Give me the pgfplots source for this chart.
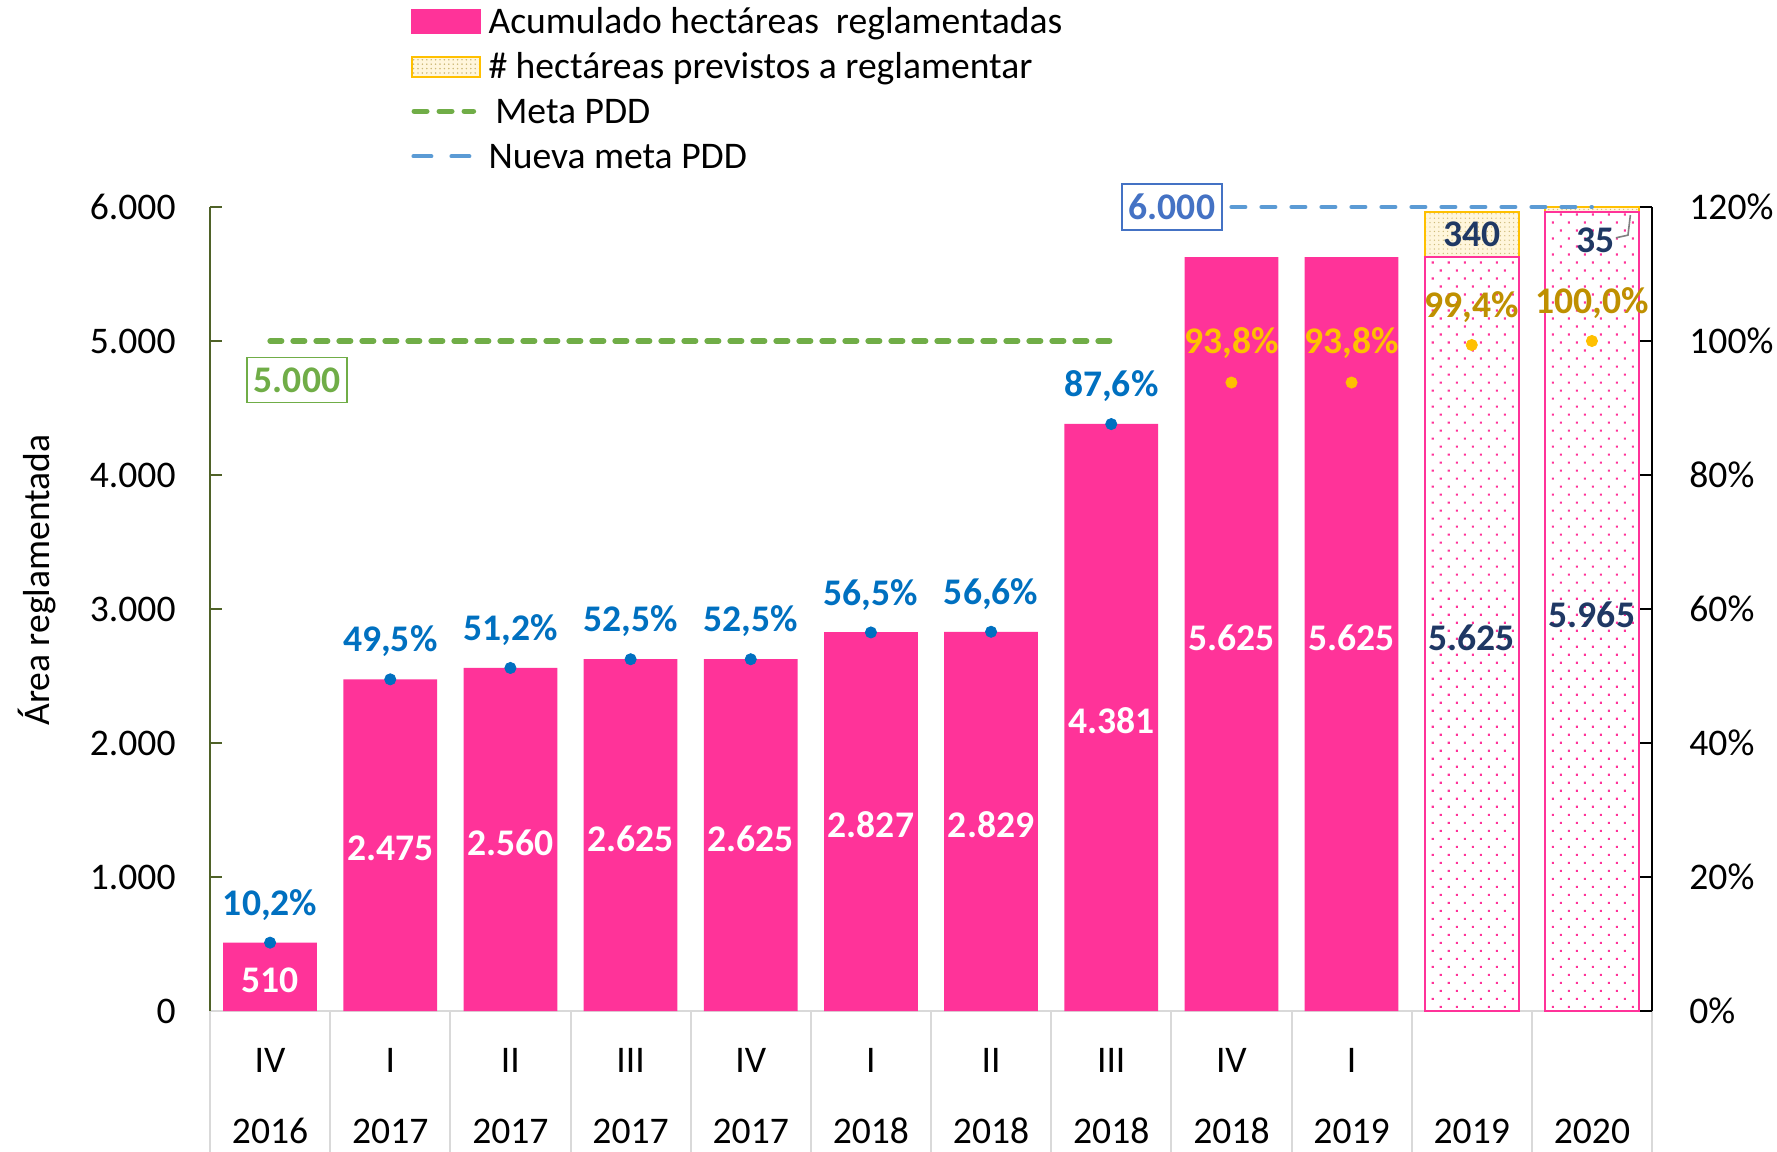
\documentclass[border=0pt]{standalone}
\usepackage{fontspec}
\setmainfont{Carlito}
\usepackage{pgfplots}
\pgfplotsset{compat=1.18}
\usepackage{pgfplotstable}
\usetikzlibrary{patterns.meta}

\definecolor{pinkc}{RGB}{255,51,153}
\definecolor{yelc}{RGB}{255,192,0}
\definecolor{goldc}{RGB}{191,144,0}
\definecolor{bluec}{RGB}{0,112,192}
\definecolor{navyc}{RGB}{31,56,100}
\definecolor{greenc}{RGB}{112,173,71}
\definecolor{lbluec}{RGB}{91,155,213}
\definecolor{mbluec}{RGB}{68,114,196}
\definecolor{axgreen}{RGB}{79,98,40}
\definecolor{sepgray}{RGB}{217,217,217}
\definecolor{creamc}{RGB}{255,246,220}
\definecolor{dotyel}{RGB}{205,185,120}

\newcommand\F{\fontsize{18.8}{22}\selectfont}

\pgfplotstableread{
x y
0 510
1 2475
2 2560
3 2625
4 2625
5 2827
6 2829
7 4381
8 5625
9 5625
}\solidtab
\pgfplotstableread{
x y
10 5625
11 5965
}\dottab
\pgfplotstableread{
x base add
10 5625 340
11 5965 35
}\addtab
\pgfplotstableread{
x p
0 10.2
1 49.5
2 51.2
3 52.5
4 52.5
5 56.5
6 56.6
7 87.6
}\pblue
\pgfplotstableread{
x p
8 93.8
9 93.8
}\pyel
\pgfplotstableread{
x p
10 99.4
11 100.0
}\pgold

\begin{document}
\begin{tikzpicture}[font=\F]
\useasboundingbox (-105pt,-70pt) rectangle (783.5pt,505.5pt);
\begin{axis}[
  at={(0,0)}, anchor=south west,
  width=721pt, height=402pt, scale only axis,
  xmin=-0.5, xmax=11.5, ymin=0, ymax=6000,
  clip=false,
  axis x line*=bottom, axis y line*=left,
  x axis line style={draw=sepgray, line width=1pt, -},
  y axis line style={draw=axgreen, line width=0.8pt, -},
  tick align=inside, major tick length=6pt,
  ytick={0,1000,...,6000},
  scaled y ticks=false,
  /pgf/number format/assume math mode=true,
  /pgf/number format/1000 sep={.},
  ytick style={draw=axgreen, line width=0.8pt},
  yticklabel style={anchor=east, inner sep=0pt, xshift=-17pt},
  xtick={0,...,11},
  xtick style={draw=none},
  xticklabels={{\strut IV\\\strut 2016},{\strut I\\\strut 2017},{\strut II\\\strut 2017},{\strut III\\\strut 2017},{\strut IV\\\strut 2017},{\strut I\\\strut 2018},{\strut II\\\strut 2018},{\strut III\\\strut 2018},{\strut IV\\\strut 2018},{\strut I\\\strut 2019},{\strut\\\strut 2019},{\strut\\\strut 2020}},
  xticklabel style={align=center, anchor=north, inner sep=0pt, yshift=-5.65pt, font=\fontsize{18.8}{35.5}\selectfont},
  extra x ticks={-0.5,0.5,...,11.5},
  extra x tick labels={},
  extra x tick style={grid=none, tick align=outside, major tick length=72pt, xtick style={draw=sepgray, line width=1pt}},
  ylabel={Área reglamentada},
  every axis y label/.style={at={(axis description cs:-0.12,0.536)}, anchor=center, rotate=90},
  legend style={at={(axis description cs:0.1394,1.249)}, anchor=north west, draw=none, fill=none, inner sep=0pt, row sep=5.6pt, nodes={inner sep=0pt, text height=13pt, text depth=4pt}, font=\F},
  legend cell align=left,
]
\addplot[ybar, bar width=0.78, bar shift=0pt, fill=pinkc, draw=none,
  legend image code/.code={\fill[pinkc] (0pt,-5pt) rectangle (35pt,7.5pt); \path (37.2pt,0pt);}]
  table[x=x,y=y]{\solidtab};
\addlegendentry{Acumulado hectáreas\ \ reglamentadas}
\addplot[ybar, bar width=0.78, bar shift=0pt, fill=creamc, draw=yelc, line width=1pt,
  postaction={pattern={Dots[distance=2.2pt,radius=0.35pt]}, pattern color=dotyel},
  legend image code/.code={\draw[yelc, line width=1pt, fill=creamc, postaction={pattern={Dots[distance=2.2pt,radius=0.35pt]}, pattern color=dotyel}] (0.5pt,-3.8pt) rectangle (34.5pt,6.2pt); \path (37.2pt,0pt);}]
  table[x=x, y expr=\thisrow{base}+\thisrow{add}]{\addtab};
\addlegendentry{\# hectáreas previstos a reglamentar}
\addplot[ybar, bar width=0.78, bar shift=0pt, fill=white, draw=pinkc, line width=1pt,
  postaction={pattern={Dots[distance=5.66pt,angle=45,radius=0.75pt]}, pattern color=pinkc}, forget plot]
  table[x=x,y=y]{\dottab};
\addplot[greenc, line width=2.7pt, line cap=round, dash pattern=on 5.8pt off 5.7pt,
  legend image code/.code={\draw[greenc, line width=2.7pt, line cap=round, dash pattern=on 6.3pt off 6.2pt] (1.4pt,1.7pt) -- (31pt,1.7pt); \path (37.2pt,0pt);}]
  coordinates {(0,5000) (7,5000)};
\addlegendentry{\hspace{3.4pt}Meta PDD}
\addplot[lbluec, line width=2pt, line cap=round, dash pattern=on 7pt off 8pt,
  legend image code/.code={\draw[lbluec, line width=2pt, line cap=round, dash pattern=on 9pt off 10pt] (1pt,1.7pt) -- (30pt,1.7pt); \path (37.2pt,0pt);}]
  coordinates {(8,6000) (11,6000)};
\addlegendentry{Nueva meta PDD}
% bar value labels
\addplot[draw=none, mark=none, forget plot, point meta=\thisrow{y},
  nodes near coords={\pgfmathprintnumber{\pgfplotspointmeta}},
  every node near coord/.append style={anchor=center, yshift=-1.7pt, font=\F\bfseries, text=white}]
  table[x=x, y expr=\thisrow{y}/2]{\solidtab};
\addplot[draw=none, mark=none, forget plot, point meta=\thisrow{y},
  nodes near coords={\pgfmathprintnumber{\pgfplotspointmeta}},
  every node near coord/.append style={anchor=center, yshift=-1.7pt, font=\F\bfseries, text=navyc}]
  table[x=x, y expr=\thisrow{y}/2]{\dottab};
\addplot[draw=none, mark=none, forget plot, point meta=explicit symbolic,
  nodes near coords,
  every node near coord/.append style={anchor=center, font=\F\bfseries, text=navyc}]
  coordinates {(10,5795)[340] (11.03,5755)[35]};
\draw[gray, line width=0.8pt] (axis cs:11.2,5770) -- (axis cs:11.3,5790) -- (axis cs:11.32,5940);
\node[draw=greenc, line width=0.8pt, text=greenc, font=\F\bfseries, inner xsep=3.5pt, inner ysep=5pt] at (axis cs:0.224,4709) {5.000};
\node[draw=mbluec, line width=0.8pt, text=mbluec, fill=white, font=\F\bfseries, inner xsep=3.5pt, inner ysep=5pt] at (axis cs:7.505,6000) {6.000};
\end{axis}
\begin{axis}[
  at={(0,0)}, anchor=south west,
  width=721pt, height=402pt, scale only axis,
  xmin=-0.5, xmax=11.5, ymin=0, ymax=120,
  clip=false,
  axis x line=none, axis y line*=right,
  y axis line style={draw=black, line width=0.8pt, -},
  tick align=inside, major tick length=6pt,
  ytick={0,20,...,120},
  scaled y ticks=false,
  /pgf/number format/assume math mode=true,
  ytick style={draw=black, line width=0.8pt},
  yticklabel={\pgfmathprintnumber{\tick}\%},
  yticklabel style={anchor=west, inner sep=0pt, xshift=18.5pt},
]
\addplot[only marks, mark=*, mark size=2.8pt, mark options={fill=bluec, draw=bluec}, point meta=y,
  nodes near coords={\pgfmathprintnumber[fixed,fixed zerofill,precision=1,use comma]{\pgfplotspointmeta}\%},
  every node near coord/.append style={anchor=center, yshift=18.9pt, font=\F\bfseries, text=bluec}]
  table[x=x,y=p]{\pblue};
\addplot[only marks, mark=*, mark size=2.8pt, mark options={fill=yelc, draw=yelc}, point meta=y,
  nodes near coords={\pgfmathprintnumber[fixed,fixed zerofill,precision=1,use comma]{\pgfplotspointmeta}\%},
  every node near coord/.append style={anchor=center, yshift=19.8pt, font=\F\bfseries, text=yelc}]
  table[x=x,y=p]{\pyel};
\addplot[only marks, mark=*, mark size=2.8pt, mark options={fill=yelc, draw=yelc}, point meta=y,
  nodes near coords={\pgfmathprintnumber[fixed,fixed zerofill,precision=1,use comma]{\pgfplotspointmeta}\%},
  every node near coord/.append style={anchor=center, yshift=18.9pt, font=\F\bfseries, text=goldc}]
  table[x=x,y=p]{\pgold};
\end{axis}
\end{tikzpicture}
\end{document}
